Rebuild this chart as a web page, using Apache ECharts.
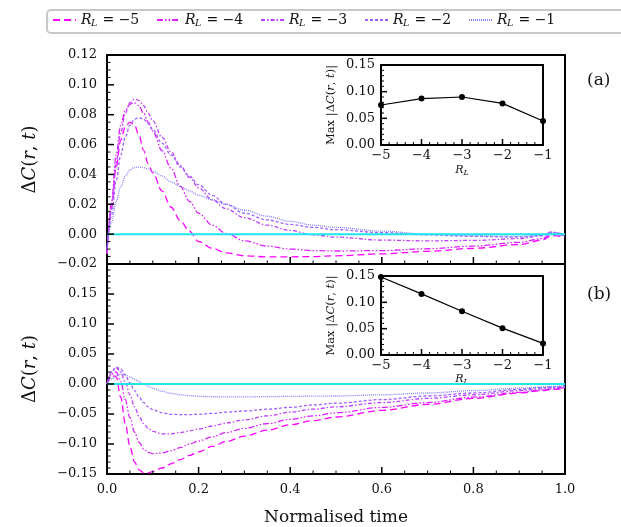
<!DOCTYPE html>
<html><head><meta charset="utf-8">
<script src="https://cdn.jsdelivr.net/npm/echarts@6/dist/echarts.min.js"></script>
<style>html,body{margin:0;padding:0;background:#fff}#c{width:621px;height:527px}</style>
</head><body><div id="c"></div>
<script>
// ---------- data ----------
const seriesNames = ['R_L = −5', 'R_L = −4', 'R_L = −3', 'R_L = −2', 'R_L = −1'];
const rlValues = [-5, -4, -3, -2, -1];
const tGrid = [0, 0.01, 0.02, 0.03, 0.04, 0.05, 0.06, 0.07, 0.08, 0.09, 0.10, 0.12, 0.14, 0.16, 0.18, 0.20, 0.23, 0.26, 0.30, 0.35, 0.40, 0.45, 0.50, 0.60, 0.70, 0.80, 0.90, 0.95, 0.97, 1.0];

// panel (a)
const topRm5 = [-0.013, 0.018, 0.045, 0.063, 0.072, 0.075, 0.073, 0.066, 0.056, 0.047, 0.041, 0.029, 0.018, 0.009, 0.002, -0.005, -0.0095, -0.0125, -0.0145, -0.0152, -0.0152, -0.015, -0.0145, -0.0132, -0.0115, -0.0095, -0.007, -0.004, -0.001, -0.002];
const topRm4 = [-0.013, 0.022, 0.053, 0.073, 0.083, 0.087, 0.088, 0.086, 0.081, 0.075, 0.069, 0.056, 0.044, 0.032, 0.022, 0.014, 0.006, 0.0005, -0.0045, -0.008, -0.0100, -0.0110, -0.0113, -0.011, -0.0098, -0.008, -0.0055, -0.003, 0.0, -0.001];
const topRm3 = [-0.013, 0.018, 0.048, 0.068, 0.081, 0.088, 0.0905, 0.0895, 0.086, 0.081, 0.076, 0.065, 0.055, 0.046, 0.038, 0.031, 0.023, 0.017, 0.011, 0.0060, 0.0025, -0.0005, -0.002, -0.004, -0.0045, -0.0042, -0.003, -0.001, 0.0015, -0.001];
const topRm2 = [-0.010, 0.013, 0.036, 0.053, 0.065, 0.073, 0.077, 0.078, 0.077, 0.074, 0.070, 0.061, 0.053, 0.045, 0.039, 0.033, 0.026, 0.020, 0.014, 0.0095, 0.0065, 0.0045, 0.003, 0.001, -0.0005, -0.0015, -0.002, -0.001, 0.001, 0.0];
const topRm1 = [-0.008, 0.008, 0.022, 0.032, 0.039, 0.043, 0.0447, 0.045, 0.0445, 0.0435, 0.042, 0.0390, 0.035, 0.032, 0.029, 0.026, 0.023, 0.020, 0.016, 0.012, 0.0085, 0.006, 0.0045, 0.002, 0.0, -0.001, -0.0015, -0.0005, 0.001, 0.0];

// panel (b)
const botRm5 = [0, 0.014, 0.012, -0.022, -0.066, -0.104, -0.130, -0.143, -0.148, -0.148, -0.146, -0.140, -0.133, -0.126, -0.119, -0.113, -0.104, -0.096, -0.087, -0.077, -0.068, -0.061, -0.055, -0.044, -0.034, -0.024, -0.015, -0.011, -0.009, -0.007];
const botRm4 = [0, 0.017, 0.020, 0.004, -0.026, -0.056, -0.080, -0.097, -0.108, -0.114, -0.116, -0.115, -0.111, -0.106, -0.100, -0.095, -0.088, -0.081, -0.074, -0.066, -0.059, -0.053, -0.048, -0.039, -0.031, -0.022, -0.014, -0.010, -0.008, -0.006];
const botRm3 = [0, 0.020, 0.027, 0.020, 0.003, -0.018, -0.038, -0.054, -0.066, -0.074, -0.079, -0.083, -0.083, -0.081, -0.078, -0.075, -0.070, -0.065, -0.060, -0.053, -0.047, -0.042, -0.038, -0.031, -0.024, -0.018, -0.011, -0.008, -0.006, -0.005];
const botRm2 = [0, 0.020, 0.028, 0.025, 0.015, 0.002, -0.011, -0.022, -0.031, -0.038, -0.043, -0.048, -0.0505, -0.051, -0.051, -0.0505, -0.049, -0.047, -0.045, -0.042, -0.039, -0.035, -0.032, -0.026, -0.020, -0.015, -0.009, -0.006, -0.005, -0.004];
const botRm1 = [0, 0.008, 0.014, 0.016, 0.0155, 0.012, 0.008, 0.004, 0.0, -0.004, -0.007, -0.012, -0.0155, -0.018, -0.0195, -0.0205, -0.0212, -0.0215, -0.0215, -0.021, -0.0207, -0.0203, -0.020, -0.018, -0.015, -0.011, -0.007, -0.005, -0.004, -0.003];

const zeroLineT = [0, 1];
const zeroLineV = [0, 0];

// insets
const insetMaxTop = [0.075, 0.087, 0.090, 0.078, 0.045];
const insetMaxBottom = [0.148, 0.116, 0.083, 0.051, 0.022];

// axis ranges / tick steps: [min, max, major step, minor subdivisions]
const xAxisSpecs = [[0, 1, 0.2, 4], [0, 1, 0.2, 4], [-5, -1, 1, 5], [-5, -1, 1, 5]];
const yAxisSpecs = [[-0.02, 0.12, 0.02, 4], [-0.15, 0.2, 0.05, 5], [0, 0.15, 0.05, 5], [0, 0.15, 0.05, 5]];

// ---------- styles ----------
const colors = ['#ff00ff', '#df20ff', '#bf40ff', '#a060ff', '#8080ff'];
const dashes = [[7, 4], [6, 2, 1.5, 2, 1.5, 2], [4, 2, 1.5, 2], [3, 2], [1, 1]];
const SERIF = 'DejaVu Serif';
const TXT = '#111';
const tickLen = [7, 7, 6, 6];

function pairs(t, v) { return t.map((x, i) => [x, v[i]]); }
function fmtNum(v, d) { return (v < -1e-9 ? '−' : '') + Math.abs(v).toFixed(d); }

const topSets = [topRm5, topRm4, topRm3, topRm2, topRm1];
const botSets = [botRm5, botRm4, botRm3, botRm2, botRm1];

const series = [];
topSets.forEach((vals, i) => series.push({
  name: seriesNames[i], type: 'line', xAxisIndex: 0, yAxisIndex: 0,
  data: pairs(tGrid, vals), symbol: 'none', smooth: 0.35, smoothMonotone: 'x',
  lineStyle: { color: colors[i], width: 1.3, type: dashes[i] }, itemStyle: { color: colors[i] }
}));
botSets.forEach((vals, i) => series.push({
  name: seriesNames[i], type: 'line', xAxisIndex: 1, yAxisIndex: 1,
  data: pairs(tGrid, vals), symbol: 'none', smooth: 0.35, smoothMonotone: 'x',
  lineStyle: { color: colors[i], width: 1.3, type: dashes[i] }, itemStyle: { color: colors[i] }
}));
[0, 1].forEach(k => series.push({
  name: 'zero', type: 'line', xAxisIndex: k, yAxisIndex: k,
  data: pairs(zeroLineT, zeroLineV), symbol: 'none',
  lineStyle: { color: '#1ee6ee', width: 2 }, silent: true
}));
[insetMaxTop, insetMaxBottom].forEach((vals, k) => series.push({
  name: 'inset' + k, type: 'line', xAxisIndex: 2 + k, yAxisIndex: 2 + k,
  data: pairs(rlValues, vals), symbol: 'circle', symbolSize: 6,
  lineStyle: { color: '#000', width: 1.2 }, itemStyle: { color: '#000' }
}));

// inward tick marks, placed through each grid's own axis scale
function tickValues(spec, majorKind) {
  const [mn, mx, step, sub] = spec;
  const n = Math.round((mx - mn) / step * sub);
  const out = [];
  for (let k = 0; k <= n; k++) out.push([mn + k * step / sub, k % sub === 0 ? majorKind : majorKind + 1]);
  return out;
}
[0, 1, 2, 3].forEach(g => {
  const xs = xAxisSpecs[g], ys = yAxisSpecs[g], L = tickLen[g];
  series.push({
    name: 'ticks' + g, type: 'custom', xAxisIndex: g, yAxisIndex: g, silent: true, clip: false, z: 6,
    data: tickValues(xs, 0).concat(tickValues(ys, 2)),
    renderItem: (params, api) => {
      const v = api.value(0), kind = api.value(1);
      const cs = params.coordSys;
      const len = (kind === 0 || kind === 2) ? L : L / 2;
      const w = (kind === 0 || kind === 2) ? 1.5 : 1;
      let shape;
      if (kind < 2) {
        const px = api.coord([v, ys[0]])[0];
        const by = cs.y + cs.height;
        shape = { x1: px, y1: by, x2: px, y2: by - len };
      } else {
        const py = api.coord([xs[0], v])[1];
        shape = { x1: cs.x, y1: py, x2: cs.x + len, y2: py };
      }
      return { type: 'line', shape: shape, style: { stroke: '#000', lineWidth: w } };
    }
  });
});

function axLine() { return { show: true, onZero: false, lineStyle: { color: '#000', width: 2 } }; }
const noTick = { show: false };

const yNameRich = {
  d: { fontFamily: SERIF, fontSize: 18, color: TXT },
  c: { fontFamily: SERIF, fontSize: 18, fontStyle: 'italic', color: TXT },
  i: { fontFamily: SERIF, fontSize: 18, fontStyle: 'italic', color: TXT }
};
const yNameText = '{d|Δ}{c|C}{d|(}{i|r}{d|, }{i|t}{d|)}';
const insetNameRich = {
  d: { fontFamily: SERIF, fontSize: 11.5, color: TXT },
  i: { fontFamily: SERIF, fontSize: 11.5, fontStyle: 'italic', color: TXT }
};
const insetYName = '{d|Max |Δ}{i|C}{d|(}{i|r}{d|, }{i|t}{d|)|}';
const rlRich = {
  i: { fontFamily: SERIF, fontSize: 11, fontStyle: 'italic', color: TXT, lineHeight: 14 },
  s: { fontFamily: SERIF, fontSize: 8, fontStyle: 'italic', color: TXT, verticalAlign: 'bottom', lineHeight: 14 }
};

// frame axes (top / right borders only)
const frameX = xAxisSpecs.map((r, g) => ({ type: 'value', gridIndex: g, position: 'top', min: r[0], max: r[1],
  axisLine: axLine(), axisTick: noTick, minorTick: noTick, axisLabel: { show: false }, splitLine: { show: false } }));
const frameY = yAxisSpecs.map((r, g) => ({ type: 'value', gridIndex: g, position: 'right', min: r[0], max: r[1],
  axisLine: axLine(), axisTick: noTick, minorTick: noTick, axisLabel: { show: false }, splitLine: { show: false } }));

const option = {
  animation: false,
  legend: {
    data: seriesNames, left: 50, top: 11, itemWidth: 23, itemHeight: 10, itemGap: 7,
    padding: 2,
    itemStyle: { opacity: 0 },
    formatter: name => '{i|R}{s|L}{n| = ' + name.split('=')[1].trim() + '}',
    textStyle: {
      rich: {
        i: { fontFamily: SERIF, fontSize: 14, fontStyle: 'italic', color: TXT, lineHeight: 18, width: 10 },
        s: { fontFamily: SERIF, fontSize: 9.5, fontStyle: 'italic', color: TXT, verticalAlign: 'bottom', lineHeight: 18, width: 7 },
        n: { fontFamily: SERIF, fontSize: 14, color: TXT, lineHeight: 18, width: 51 }
      }
    }
  },
  graphic: [
    { type: 'rect', shape: { x: 47, y: 10, width: 620, height: 23, r: 4 }, style: { fill: 'none', stroke: '#c8c8c8', lineWidth: 2 }, silent: true },
    { type: 'text', left: 587, top: 72, style: { text: '(a)', fontFamily: SERIF, fontSize: 17, fill: TXT } },
    { type: 'text', left: 587, top: 286, style: { text: '(b)', fontFamily: SERIF, fontSize: 17, fill: TXT } }
  ],
  grid: [
    { left: 107, top: 55, width: 458, height: 209 },
    { left: 107, top: 264, width: 458, height: 210 },
    { left: 381, top: 65, width: 162, height: 80 },
    { left: 381, top: 276, width: 162, height: 79 }
  ],
  xAxis: [
    { type: 'value', gridIndex: 0, position: 'bottom', min: 0, max: 1, interval: 0.2, axisLine: axLine(),
      axisTick: noTick, minorTick: noTick, axisLabel: { show: false }, splitLine: { show: false } },
    { type: 'value', gridIndex: 1, position: 'bottom', min: 0, max: 1, interval: 0.2, axisLine: axLine(),
      axisTick: noTick, minorTick: noTick,
      axisLabel: { margin: 9, fontFamily: SERIF, fontSize: 13, color: TXT, formatter: v => fmtNum(v, 1) },
      splitLine: { show: false },
      name: 'Normalised time', nameLocation: 'middle', nameGap: 35,
      nameTextStyle: { fontFamily: SERIF, fontSize: 17, color: TXT } },
    { type: 'value', gridIndex: 2, position: 'bottom', min: -5, max: -1, interval: 1, axisLine: axLine(),
      axisTick: noTick, minorTick: noTick,
      axisLabel: { margin: 4, fontFamily: SERIF, fontSize: 13, color: TXT, formatter: v => fmtNum(v, 0) },
      splitLine: { show: false },
      name: '{i|R}{s|L}', nameLocation: 'middle', nameGap: 18, nameTextStyle: { rich: rlRich } },
    { type: 'value', gridIndex: 3, position: 'bottom', min: -5, max: -1, interval: 1, axisLine: axLine(),
      axisTick: noTick, minorTick: noTick,
      axisLabel: { margin: 4, fontFamily: SERIF, fontSize: 13, color: TXT, formatter: v => fmtNum(v, 0) },
      splitLine: { show: false },
      name: '{i|R}{s|L}', nameLocation: 'middle', nameGap: 17, nameTextStyle: { rich: rlRich } }
  ].concat(frameX),
  yAxis: [
    { type: 'value', gridIndex: 0, position: 'left', min: -0.02, max: 0.12, interval: 0.02, axisLine: axLine(),
      axisTick: noTick, minorTick: noTick,
      axisLabel: { margin: 10, fontFamily: SERIF, fontSize: 13, color: TXT, formatter: v => fmtNum(v, 2) },
      splitLine: { show: false },
      name: yNameText, nameLocation: 'middle', nameGap: 68, nameRotate: 90, nameTextStyle: { rich: yNameRich } },
    { type: 'value', gridIndex: 1, position: 'left', min: -0.15, max: 0.2, interval: 0.05, axisLine: axLine(),
      axisTick: noTick, minorTick: noTick,
      axisLabel: { margin: 10, fontFamily: SERIF, fontSize: 13, color: TXT, formatter: v => (v > 0.19 ? '' : fmtNum(v, 2)) },
      splitLine: { show: false },
      name: yNameText, nameLocation: 'middle', nameGap: 68, nameRotate: 90, nameTextStyle: { rich: yNameRich } },
    { type: 'value', gridIndex: 2, position: 'left', min: 0, max: 0.15, interval: 0.05, axisLine: axLine(),
      axisTick: noTick, minorTick: noTick,
      axisLabel: { margin: 6, fontFamily: SERIF, fontSize: 13, color: TXT, formatter: v => fmtNum(v, 2) },
      splitLine: { show: false },
      name: insetYName, nameLocation: 'middle', nameGap: 44, nameRotate: 90, nameTextStyle: { rich: insetNameRich } },
    { type: 'value', gridIndex: 3, position: 'left', min: 0, max: 0.15, interval: 0.05, axisLine: axLine(),
      axisTick: noTick, minorTick: noTick,
      axisLabel: { margin: 6, fontFamily: SERIF, fontSize: 13, color: TXT, formatter: v => fmtNum(v, 2) },
      splitLine: { show: false },
      name: insetYName, nameLocation: 'middle', nameGap: 44, nameRotate: 90, nameTextStyle: { rich: insetNameRich } }
  ].concat(frameY),
  series: series
};
const chart = echarts.init(document.getElementById('c'));
chart.setOption(option);
</script>
</body></html>
